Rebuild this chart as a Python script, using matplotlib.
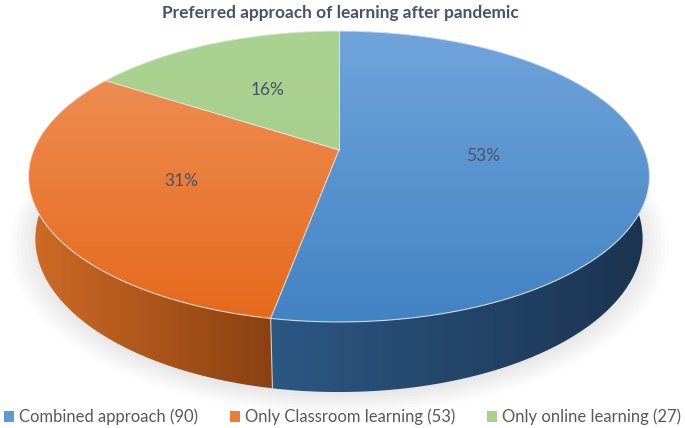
import numpy as np
import matplotlib
matplotlib.use("Agg")
import matplotlib.pyplot as plt
from matplotlib.patches import Polygon, Patch
from matplotlib.colors import to_rgb

# ---- data ----
categories = ["Combined approach", "Only Classroom learning", "Only online learning"]
counts = [90, 53, 27]
title = "Preferred approach of learning after pandemic"

# ---- styling ----
legend_colors = ["#5B9BD5", "#ED7D31", "#A9D18E"]
top_grad = [("#70A4DB", "#4283C4"), ("#F0935C", "#E5691B"), ("#AAD290", "#A5CC89")]
side_grad = [("#2C5884", "#1B3350"), ("#D06B26", "#8A4111"), ("#8DB070", "#6F8F57")]
label_radius = [0.47, 0.54, 0.53]
text_dark = "#44546A"

W, H = 685, 428
fig = plt.figure(figsize=(W / 100, H / 100), dpi=100)
ax = fig.add_axes([0, 0, 1, 1])
ax.set_xlim(0, W)
ax.set_ylim(H, 0)
ax.axis("off")

# ---- perspective camera for the 3D pie ----
elev = np.arcsin(0.4607)
sn, cs = np.sin(elev), np.cos(elev)
dist = 4.873
focal = 1487.7
cx, cy = 339.0, 150.0
depth = 0.231


def project(X, Y, Z):
    zc = dist + Y * cs - Z * sn
    u = focal * X / zc
    w = focal * (Y * sn + Z * cs) / zc
    return cx + u, cy - w


def arc(t0, t1, r=1.0, z=0.0, n=200):
    t = np.radians(np.linspace(t0, t1, n))
    return project(r * np.sin(t), r * np.cos(t), z)


def gradient_fill(poly_xy, c0, c1, vertical, lo, hi, z=1.0):
    poly = Polygon(poly_xy, closed=True, facecolor="none", edgecolor="none", zorder=z)
    ax.add_patch(poly)
    a, b = np.array(to_rgb(c0)), np.array(to_rgb(c1))
    coord = np.linspace(0, H if vertical else W, 600)
    frac = np.clip((coord - lo) / (hi - lo), 0, 1)[:, None]
    cols = a + (b - a) * frac
    if vertical:
        img = np.repeat(cols[:, None, :], 2, axis=1)
    else:
        img = np.repeat(cols[None, :, :], 2, axis=0)
    im = ax.imshow(img, extent=(0, W, H, 0), origin="upper", aspect="auto",
                   interpolation="bilinear", zorder=z)
    im.set_clip_path(poly)


total = sum(counts)
fracs = [v / total for v in counts]
bounds = np.concatenate([[0], np.cumsum(fracs) * 360])

# soft shadow under the pie
for k in range(8):
    sx, sy = arc(0, 360, r=1.0 + 0.012 * k, z=-depth - 0.01)
    ax.fill(sx, sy, color="#7f7f7f", alpha=0.02, lw=0, zorder=0.5)

# side walls
for i in range(len(counts)):
    t0, t1 = bounds[i], bounds[i + 1]
    tx, ty = arc(t0, t1, z=0.0)
    bx, by = arc(t0, t1, z=-depth)
    xy = np.column_stack([np.concatenate([tx, bx[::-1]]),
                          np.concatenate([ty, by[::-1]])])
    lo, hi = tx.min(), tx.max()
    if i == 1:
        lo, hi = 28, 270
    elif i == 0:
        lo, hi = 270, 650
    gradient_fill(xy, side_grad[i][0], side_grad[i][1], False, lo, hi, z=1.0)

# seams between side walls (only those on the near half are visible)
for b in bounds[:-1]:
    rad = np.radians(b)
    if np.cos(rad) > 0:
        continue
    px, py = project(np.array([np.sin(rad)] * 2), np.array([np.cos(rad)] * 2),
                     np.array([0.0, -depth]))
    ax.plot(px, py, color="#E6E6E6", lw=0.8, alpha=0.8, zorder=1.5)

# top faces
ox, oy = project(0.0, 0.0, 0.0)
ytop = project(0.0, 1.0, 0.0)[1]
ybot = project(0.0, -1.0, 0.0)[1]
for i in range(len(counts)):
    t0, t1 = bounds[i], bounds[i + 1]
    tx, ty = arc(t0, t1)
    xy = np.column_stack([np.concatenate([[ox], tx]), np.concatenate([[oy], ty])])
    gradient_fill(xy, top_grad[i][0], top_grad[i][1], True, ytop, ybot, z=2.0)

# rim and slice edges
rx, ry = arc(0, 360)
ax.plot(rx, ry, color="#EDEDED", lw=0.8, alpha=0.8, zorder=3)
for b in bounds[:-1]:
    rad = np.radians(b)
    ex, ey = project(np.array([0.0, np.sin(rad)]), np.array([0.0, np.cos(rad)]), np.zeros(2))
    ax.plot(ex, ey, color="#EDEDED", lw=0.8, alpha=0.8, zorder=3)

# percentage labels
for i in range(len(counts)):
    mid = np.radians((bounds[i] + bounds[i + 1]) / 2)
    r = label_radius[i]
    lx, ly = project(r * np.sin(mid), r * np.cos(mid), 0.0)
    ax.text(lx, ly, f"{fracs[i] * 100:.0f}%", ha="center", va="center",
            fontsize=12.5, color=text_dark, family="Lato", zorder=4)

ax.text(340, 13, title, ha="center", va="center", fontsize=12.4,
        fontweight="bold", color=text_dark, family="Lato")

handles = [Patch(facecolor=legend_colors[i], edgecolor="none",
                 label=f"{categories[i]} ({counts[i]})") for i in range(len(counts))]
leg = fig.legend(handles=handles, loc="center", bbox_to_anchor=(0.5, 1 - 417 / H),
                 ncol=3, frameon=False, handlelength=0.6, handleheight=0.6,
                 handletextpad=0.3, columnspacing=1.9, borderpad=0, borderaxespad=0,
                 prop={"family": "Lato", "size": 12})
for t in leg.get_texts():
    t.set_color("#595959")

fig.savefig("out.png", dpi=100)
